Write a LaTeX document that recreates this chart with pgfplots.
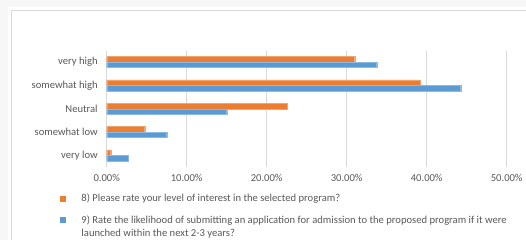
\documentclass[border=0pt]{standalone}
\usepackage{fontspec}
\setmainfont{Carlito}
\usepackage{pgfplots}
\pgfplotsset{compat=1.18}
\definecolor{oc}{HTML}{ED7D31}
\definecolor{bc}{HTML}{5B9BD5}
\definecolor{gc}{HTML}{D9D9D9}
\definecolor{tc}{HTML}{595959}
\definecolor{bgc}{HTML}{F7F7F7}
\begin{document}
\begin{tikzpicture}
\useasboundingbox (0,0) rectangle (526pt,240pt);
\fill[bgc] (0,0) rectangle (526pt,240pt);
\fill[white] (8pt,0) rectangle (526pt,233pt);
\draw[gc, line width=0.8pt] (11.5pt,0) -- (11.5pt,229.5pt) -- (526pt,229.5pt);
\begin{axis}[
  at={(106.7pt,73pt)}, anchor=south west,
  scale only axis, width=400pt, height=116.5pt,
  xmin=0, xmax=50, ymin=-0.5, ymax=4.5,
  xbar, bar width=5.5pt,
  xtick={0,10,20,30,40,50},
  xticklabels={0.00\%,10.00\%,20.00\%,30.00\%,40.00\%,50.00\%},
  ytick={0,1,2,3,4},
  yticklabels={very low,somewhat low,Neutral,somewhat high,very high},
  xmajorgrids, grid style={gc, line width=0.8pt},
  axis line style={draw=none},
  major tick length=0pt,
  tick label style={font=\fontsize{10.6}{12.5}\selectfont, text=tc},
  xticklabel style={yshift=-3.5pt},
  yticklabel style={xshift=-5.5pt},
  legend style={at={(axis description cs:-0.117,-0.215)}, anchor=north west,
    draw=none, fill=none, inner sep=0pt, font=\fontsize{10.6}{13}\selectfont, text=tc,
    cells={anchor=west}, row sep=7pt},
  legend cell align=left,
  clip=false,
]
\addplot[fill=oc, draw=oc!70!white, line width=0.4pt, bar shift=2.75pt,
  legend image code/.code={\fill[oc] (0pt,-2.5pt) rectangle (5pt,2.5pt); \path (19pt,0);}]
  coordinates {(0.5,0) (4.75,1) (22.6,2) (39.2,3) (31.0,4)};
\addlegendentry{8) Please rate your level of interest in the selected program?}
\addplot[fill=bc, draw=bc!70!white, line width=0.4pt, bar shift=-2.75pt,
  legend image code/.code={\fill[bc] (0pt,-2.5pt) rectangle (5pt,2.5pt); \path (19pt,0);}]
  coordinates {(2.66,0) (7.5,1) (15.0,2) (44.25,3) (33.75,4)};
\addlegendentry{\begin{tabular}[t]{@{}l@{}}9) Rate the likelihood of submitting an application for admission to the proposed program if it were\\launched within the next 2-3 years?\end{tabular}}
\end{axis}
\end{tikzpicture}
\end{document}
